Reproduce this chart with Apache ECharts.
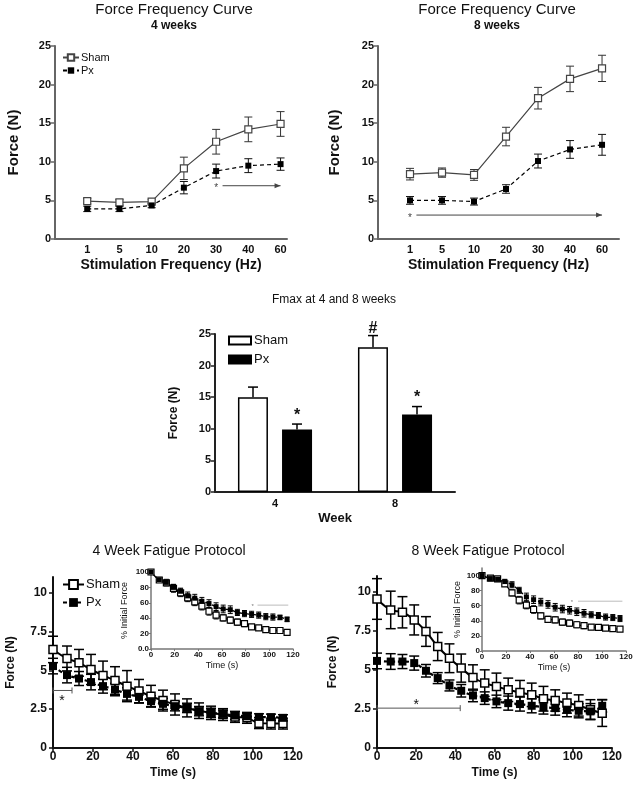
<!DOCTYPE html>
<html><head><meta charset="utf-8">
<script src="https://cdn.jsdelivr.net/npm/echarts@6/dist/echarts.min.js"></script>
<style>html,body{margin:0;padding:0;background:#fff}#c{width:637px;height:786px}</style>
</head><body><div id="c"></div>
<script>
// ---------- DATA ----------
const ffCategories = ['1', '5', '10', '20', '30', '40', '60'];
const ff4Sham    = [4.9, 4.75, 4.85, 9.15, 12.6, 14.2, 14.9];
const ff4ShamErr = [0.35, 0.35, 0.3, 1.45, 1.6, 1.6, 1.6];
const ff4Px      = [3.9, 3.9, 4.35, 6.65, 8.8, 9.5, 9.7];
const ff4PxErr   = [0.35, 0.35, 0.3, 0.8, 0.9, 0.9, 0.8];
const ff8Sham    = [8.4, 8.6, 8.3, 13.27, 18.24, 20.74, 22.1];
const ff8ShamErr = [0.75, 0.6, 0.7, 1.2, 1.4, 1.65, 1.7];
const ff8Px      = [5.0, 5.0, 4.85, 6.48, 10.1, 11.6, 12.2];
const ff8PxErr   = [0.5, 0.5, 0.45, 0.55, 0.9, 1.15, 1.35];

const fmaxWeeks  = ['4', '8'];
const fmaxSham    = [15.0, 22.9];
const fmaxShamErr = [1.6, 1.85];
const fmaxPx      = [9.9, 12.25];
const fmaxPxErr   = [0.85, 1.27];

const fatTimes = [0, 7, 13, 19, 25, 31, 37, 43, 49, 55, 61, 67, 73, 79, 85, 91, 97, 103, 109, 115];
const fat4Sham    = [6.34, 5.76, 5.48, 5.05, 4.67, 4.34, 3.98, 3.66, 3.33, 3.05, 2.8, 2.58, 2.4, 2.26, 2.15, 2.0, 1.94, 1.6, 1.57, 1.57];
const fat4ShamErr = [0.85, 0.8, 0.86, 0.97, 0.92, 0.89, 1.0, 0.75, 0.7, 0.67, 0.68, 0.58, 0.5, 0.43, 0.38, 0.35, 0.35, 0.35, 0.35, 0.35];
const fat4Px      = [5.27, 4.69, 4.47, 4.24, 3.98, 3.76, 3.48, 3.29, 3.01, 2.84, 2.69, 2.58, 2.37, 2.26, 2.19, 2.09, 2.04, 2.0, 1.98, 1.94];
const fat4PxErr   = [0.5, 0.5, 0.45, 0.5, 0.45, 0.4, 0.4, 0.4, 0.35, 0.35, 0.3, 0.3, 0.3, 0.3, 0.25, 0.25, 0.2, 0.2, 0.2, 0.2];
const fat8Sham    = [9.53, 8.83, 8.68, 8.19, 7.45, 6.49, 5.74, 5.11, 4.51, 4.15, 3.94, 3.72, 3.55, 3.4, 3.15, 3.04, 2.87, 2.72, 2.45, 2.23];
const fat8ShamErr = [1.3, 1.2, 1.0, 0.96, 0.95, 0.9, 0.92, 0.9, 0.81, 0.85, 0.85, 0.75, 0.77, 0.75, 0.79, 0.68, 0.64, 0.68, 0.64, 0.85];
const fat8Px      = [5.57, 5.53, 5.53, 5.43, 4.94, 4.47, 4.0, 3.66, 3.36, 3.19, 2.98, 2.87, 2.81, 2.7, 2.62, 2.55, 2.45, 2.38, 2.34, 2.7];
const fat8PxErr   = [0.5, 0.5, 0.45, 0.45, 0.4, 0.35, 0.35, 0.4, 0.4, 0.4, 0.4, 0.45, 0.45, 0.45, 0.45, 0.45, 0.45, 0.45, 0.5, 0.4];

const ins4Sham    = [100, 89.6, 86, 78.7, 73, 66.5, 61.3, 55.7, 49, 44, 40.4, 37.4, 34.8, 33, 28.7, 27.4, 25.2, 24, 24, 21.7];
const ins4ShamErr = [0, 3, 4, 5, 5, 5, 5, 5, 5, 5, 4, 4, 4, 4, 3, 3, 3, 3, 3, 3];
const ins4Px      = [100, 90, 86.5, 80, 75, 69, 66, 62, 59, 55, 52, 51, 47.5, 46, 45, 44, 42, 41.5, 41, 38.5];
const ins4PxErr   = [0, 3, 4, 4, 4, 5, 5, 5, 5, 5, 5, 5, 4, 4, 4, 4, 4, 4, 3, 3];
const ins8Sham    = [100, 96.5, 95.6, 89, 77, 67.4, 60.9, 55, 46.5, 42, 41.3, 38.3, 37, 34.8, 33.5, 31.7, 31.3, 30.4, 29.6, 29.1];
const ins8ShamErr = [0, 3, 3, 3, 4, 5, 5, 5, 4, 4, 4, 4, 4, 4, 4, 3, 3, 3, 3, 3];
const ins8Px      = [100, 96, 95, 92, 87.8, 80.4, 71.7, 68, 64.8, 61.7, 58, 55.6, 54, 52, 50, 48, 47, 45, 44.3, 43];
const ins8PxErr   = [0, 3, 3, 3, 4, 4, 5, 5, 5, 5, 5, 5, 5, 5, 5, 4, 4, 4, 4, 4];

// annotations: [xFrom, xTo, y]
const ff4Arrow = [[5.2, 7.0, 6.9]];
const ff4Star  = [[5.0, 6.9]];
const ff8Arrow = [[1.2, 7.0, 3.1]];
const ff8Star  = [[1.0, 3.1]];
const fmaxMarks = [[0, 12.4], [1, 26.2], [1, 15.2]];
const fmaxMarkText = ['*', '#', '*'];
const fat4Bracket = [[0, 9.5, 3.7]];
const fat4Star    = [[4.5, 3.25]];
const fat8Bracket = [[0, 42.5, 2.55]];
const fat8Star    = [[20, 3.0]];
const ins4Line = [[90, 116, 57]];
const ins4Dot  = [[86, 58]];
const ins8Line = [[80, 117, 66]];
const ins8Dot  = [[75, 67]];

// ---------- HELPERS ----------
const FONT = '"Liberation Sans", Arial, Helvetica, sans-serif';
const TXT = '#111';
const ffX = ffCategories.map((_, i) => i + 1);
const pairs = (xs, ys) => xs.map((x, i) => [x, ys[i]]);
const triples = (xs, ys, es) => xs.map((x, i) => [x, ys[i], es[i]]);

function errSeries(gi, data, o) {
  return {
    type: 'custom', coordinateSystem: 'cartesian2d', xAxisIndex: gi, yAxisIndex: gi,
    data, z: o.z || 2, silent: true, encode: {x: 0, y: 1},
    renderItem(params, api) {
      const x = api.value(0), y = api.value(1), e = api.value(2);
      const hi = api.coord([x, y + e]);
      const lo = api.coord([x, o.oneSided ? y : y - e]);
      const cx = hi[0] + (o.dx || 0);
      const st = {stroke: o.color || '#000', lineWidth: o.lw || 1};
      const w = o.cap / 2;
      const ch = [
        {type: 'line', shape: {x1: cx, y1: hi[1], x2: cx, y2: lo[1]}, style: st},
        {type: 'line', shape: {x1: cx - w, y1: hi[1], x2: cx + w, y2: hi[1]}, style: st}
      ];
      if (!o.oneSided) ch.push({type: 'line', shape: {x1: cx - w, y1: lo[1], x2: cx + w, y2: lo[1]}, style: st});
      return {type: 'group', children: ch};
    }
  };
}

function annLine(gi, data, o) {
  return {
    type: 'custom', coordinateSystem: 'cartesian2d', xAxisIndex: gi, yAxisIndex: gi,
    data, z: 5, silent: true, encode: {x: [0, 1], y: 2},
    renderItem(params, api) {
      const y = api.value(2);
      const a = api.coord([api.value(0), y]), b = api.coord([api.value(1), y]);
      const st = {stroke: o.color, lineWidth: o.lw};
      const ch = [{type: 'line', shape: {x1: a[0], y1: a[1], x2: b[0], y2: b[1]}, style: st}];
      if (o.kind === 'arrow') {
        ch.push({type: 'polygon', shape: {points: [[b[0], b[1]], [b[0] - 6, b[1] - 2.5], [b[0] - 6, b[1] + 2.5]]}, style: {fill: o.color}});
      } else if (o.kind === 'bracket') {
        ch.push({type: 'line', shape: {x1: a[0], y1: a[1] - 3, x2: a[0], y2: a[1] + 3}, style: st});
        ch.push({type: 'line', shape: {x1: b[0], y1: b[1] - 3, x2: b[0], y2: b[1] + 3}, style: st});
      }
      return {type: 'group', children: ch};
    }
  };
}

function annText(gi, data, texts, o) {
  return {
    type: 'custom', coordinateSystem: 'cartesian2d', xAxisIndex: gi, yAxisIndex: gi,
    data, z: 6, silent: true, encode: {x: 0, y: 1},
    renderItem(params, api) {
      const p = api.coord([api.value(0), api.value(1)]);
      const dx = o.dx ? o.dx[params.dataIndex] : 0;
      return {type: 'text', x: p[0] + dx, y: p[1] + (o.dy || 0),
        style: {text: texts[params.dataIndex], fontSize: o.size, fontWeight: o.weight || 'normal',
          fill: o.color || TXT, align: 'center', verticalAlign: 'middle', fontFamily: FONT}};
    }
  };
}

function lineSeries(name, gi, data, o) {
  return {
    type: 'line', name, xAxisIndex: gi, yAxisIndex: gi, data, z: 4,
    symbol: 'rect', symbolSize: o.size, smooth: o.smooth || false,
    itemStyle: o.open ? {color: '#fff', borderColor: o.color, borderWidth: o.bw || 1.2}
                      : {color: o.color, borderColor: o.color, borderWidth: 0},
    lineStyle: {color: o.color, width: o.lw, type: o.dashed ? [4, 3] : 'solid'},
    emphasis: {disabled: true}
  };
}

function valAxis(gi, o) {
  return {
    gridIndex: gi, type: 'value', min: o.min, max: o.max, interval: o.interval,
    axisLine: {show: true, onZero: false, lineStyle: {color: o.color, width: o.lw}},
    axisTick: {show: o.tick !== false, length: o.tickLen || 4, customValues: o.customValues,
      lineStyle: {color: o.color, width: o.tickW || 1.5}},
    splitLine: {show: false},
    axisLabel: {fontSize: o.fs, fontWeight: 'bold', color: TXT, margin: o.margin, fontFamily: FONT,
      customValues: o.customValues, formatter: o.formatter},
    name: o.name, nameLocation: 'middle', nameGap: o.nameGap,
    nameTextStyle: {fontSize: o.nfs, fontWeight: o.nfw || 'bold', color: TXT, fontFamily: FONT}
  };
}

const legendFmt = n => n.split('|')[0];

// ---------- CHART ----------
const chart = echarts.init(document.getElementById('c'), null, {renderer: 'canvas'});

const option = {
  animation: false,
  backgroundColor: '#fff',
  textStyle: {fontFamily: FONT},
  title: [
    {text: 'Force Frequency Curve', subtext: '4 weeks', left: 174, top: 2, textAlign: 'center', padding: 0, itemGap: 3,
     textStyle: {fontSize: 15, fontWeight: 'normal', color: TXT, fontFamily: FONT},
     subtextStyle: {fontSize: 12, fontWeight: 'bold', color: TXT, fontFamily: FONT}},
    {text: 'Force Frequency Curve', subtext: '8 weeks', left: 497, top: 2, textAlign: 'center', padding: 0, itemGap: 3,
     textStyle: {fontSize: 15, fontWeight: 'normal', color: TXT, fontFamily: FONT},
     subtextStyle: {fontSize: 12, fontWeight: 'bold', color: TXT, fontFamily: FONT}},
    {text: 'Fmax at 4 and 8 weeks', left: 334, top: 294, textAlign: 'center', padding: 0,
     textStyle: {fontSize: 12, fontWeight: 'normal', color: TXT, fontFamily: FONT}},
    {text: '4 Week Fatigue Protocol', left: 169, top: 544, textAlign: 'center', padding: 0,
     textStyle: {fontSize: 14, fontWeight: 'normal', color: TXT, fontFamily: FONT}},
    {text: '8 Week Fatigue Protocol', left: 488, top: 544, textAlign: 'center', padding: 0,
     textStyle: {fontSize: 14, fontWeight: 'normal', color: TXT, fontFamily: FONT}}
  ],
  legend: [
    {data: ['Sham|ff4', 'Px|ff4'], orient: 'vertical', left: 62, top: 52, padding: 0, itemGap: 2,
     itemWidth: 16, itemHeight: 8, selectedMode: false, formatter: legendFmt,
     textStyle: {fontSize: 11, color: TXT, fontFamily: FONT, padding: [0, 0, 0, -3]}},
    {data: ['Sham|bar', 'Px|bar'], orient: 'vertical', left: 228, top: 334, padding: 0, itemGap: 6,
     itemWidth: 22, itemHeight: 8, selectedMode: false, formatter: legendFmt, icon: 'rect',
     textStyle: {fontSize: 13, color: TXT, fontFamily: FONT, padding: [0, 0, 0, -2]}},
    {data: ['Sham|fat4', 'Px|fat4'], orient: 'vertical', left: 62, top: 578, padding: 0, itemGap: 5,
     itemWidth: 21, itemHeight: 11, selectedMode: false, formatter: legendFmt,
     textStyle: {fontSize: 13, color: TXT, fontFamily: FONT, padding: [0, 0, 0, -3]}}
  ],
  grid: [
    {left: 55, top: 46, width: 232, height: 193},
    {left: 378, top: 46, width: 241, height: 193},
    {left: 215, top: 334, width: 240, height: 158},
    {left: 53, top: 577, width: 240, height: 171},
    {left: 377, top: 576, width: 235, height: 172},
    {left: 151, top: 572, width: 142, height: 77},
    {left: 482, top: 568, width: 144, height: 83}
  ],
  xAxis: [
    valAxis(0, {min: 0, max: 7.2, color: '#666', lw: 2, tick: false, fs: 11, margin: 5,
      customValues: ffX, formatter: v => ffCategories[v - 1] || '',
      name: 'Stimulation Frequency (Hz)', nameGap: 19, nfs: 14}),
    valAxis(1, {min: 0, max: 7.53, color: '#666', lw: 2, tick: false, fs: 11, margin: 5,
      customValues: ffX, formatter: v => ffCategories[v - 1] || '',
      name: 'Stimulation Frequency (Hz)', nameGap: 19, nfs: 14}),
    {gridIndex: 2, type: 'category', data: fmaxWeeks,
     axisLine: {show: true, lineStyle: {color: '#222', width: 2}}, axisTick: {show: false},
     axisLabel: {fontSize: 11, fontWeight: 'bold', color: TXT, margin: 6, fontFamily: FONT},
     name: 'Week', nameLocation: 'middle', nameGap: 20,
     nameTextStyle: {fontSize: 13, fontWeight: 'bold', color: TXT, fontFamily: FONT}},
    valAxis(3, {min: 0, max: 120, interval: 20, color: '#111', lw: 2, fs: 12, margin: 3,
      name: 'Time (s)', nameGap: 19, nfs: 12}),
    valAxis(4, {min: 0, max: 120, interval: 20, color: '#111', lw: 2, fs: 12, margin: 3,
      name: 'Time (s)', nameGap: 19, nfs: 12}),
    valAxis(5, {min: 0, max: 120, interval: 20, color: '#777', lw: 1.5, tickLen: 2, tickW: 1, fs: 8, margin: 2,
      name: 'Time (s)', nameGap: 12, nfs: 9, nfw: 'normal'}),
    valAxis(6, {min: 0, max: 120, interval: 20, color: '#777', lw: 1.5, tickLen: 2, tickW: 1, fs: 8, margin: 2,
      name: 'Time (s)', nameGap: 12, nfs: 9, nfw: 'normal'})
  ],
  yAxis: [
    valAxis(0, {min: 0, max: 25, interval: 5, color: '#666', lw: 2, fs: 11, margin: 4,
      name: 'Force (N)', nameGap: 34, nfs: 15}),
    valAxis(1, {min: 0, max: 25, interval: 5, color: '#666', lw: 2, fs: 11, margin: 4,
      name: 'Force (N)', nameGap: 36, nfs: 15}),
    valAxis(2, {min: 0, max: 25, interval: 5, color: '#222', lw: 2, fs: 11, margin: 4,
      name: 'Force (N)', nameGap: 35, nfs: 12}),
    valAxis(3, {min: 0, max: 11, color: '#111', lw: 2, fs: 12, margin: 6,
      customValues: [0, 2.5, 5, 7.5, 10], name: 'Force (N)', nameGap: 36, nfs: 12}),
    valAxis(4, {min: 0, max: 11, color: '#111', lw: 2, fs: 12, margin: 6,
      customValues: [0, 2.5, 5, 7.5, 10], name: 'Force (N)', nameGap: 38, nfs: 12}),
    valAxis(5, {min: 0, max: 100, interval: 20, color: '#777', lw: 1.5, tickLen: 2, tickW: 1, fs: 8, margin: 2,
      formatter: v => (v === 0 ? '0.0' : String(v)), name: '% Initial Force', nameGap: 22, nfs: 9, nfw: 'normal'}),
    valAxis(6, {min: 0, max: 110, color: '#777', lw: 1.5, tickLen: 2, tickW: 1, fs: 8, margin: 2,
      customValues: [0, 20, 40, 60, 80, 100], name: '% Initial Force', nameGap: 20, nfs: 9, nfw: 'normal'})
  ],
  series: [
    // Force frequency 4 wk
    errSeries(0, triples(ffX, ff4Sham, ff4ShamErr), {cap: 8, lw: 1, color: '#333'}),
    errSeries(0, triples(ffX, ff4Px, ff4PxErr), {cap: 8, lw: 1, color: '#111'}),
    lineSeries('Sham|ff4', 0, pairs(ffX, ff4Sham), {size: 7, open: true, color: '#444', lw: 1.2}),
    lineSeries('Px|ff4', 0, pairs(ffX, ff4Px), {size: 6, color: '#000', lw: 1.2, dashed: true}),
    annLine(0, ff4Arrow, {kind: 'arrow', color: '#444', lw: 1}),
    annText(0, ff4Star, ['*'], {size: 10, color: '#444', dy: 3}),
    // Force frequency 8 wk
    errSeries(1, triples(ffX, ff8Sham, ff8ShamErr), {cap: 8, lw: 1, color: '#333'}),
    errSeries(1, triples(ffX, ff8Px, ff8PxErr), {cap: 8, lw: 1, color: '#111'}),
    lineSeries('Sham|ff8', 1, pairs(ffX, ff8Sham), {size: 7, open: true, color: '#444', lw: 1.2}),
    lineSeries('Px|ff8', 1, pairs(ffX, ff8Px), {size: 6, color: '#000', lw: 1.2, dashed: true}),
    annLine(1, ff8Arrow, {kind: 'arrow', color: '#444', lw: 1}),
    annText(1, ff8Star, ['*'], {size: 10, color: '#444', dy: 3}),
    // Fmax bars
    {type: 'bar', name: 'Sham|bar', xAxisIndex: 2, yAxisIndex: 2, data: fmaxSham, barWidth: 30, barGap: '47%',
     itemStyle: {color: '#fff', borderColor: '#000', borderWidth: 1.5}, z: 3},
    {type: 'bar', name: 'Px|bar', xAxisIndex: 2, yAxisIndex: 2, data: fmaxPx, barWidth: 30, barGap: '47%',
     itemStyle: {color: '#000', borderColor: '#000', borderWidth: 1.5}, z: 3},
    errSeries(2, triples([0, 1], fmaxSham, fmaxShamErr), {cap: 10, lw: 1.5, oneSided: true, dx: -22, z: 4}),
    errSeries(2, triples([0, 1], fmaxPx, fmaxPxErr), {cap: 10, lw: 1.5, oneSided: true, dx: 22, z: 4}),
    annText(2, fmaxMarks, fmaxMarkText, {size: 16, weight: 'bold', dx: [22, -22, 22], dy: 2}),
    // Fatigue 4 wk
    errSeries(3, triples(fatTimes, fat4Sham, fat4ShamErr), {cap: 10, lw: 1.5}),
    errSeries(3, triples(fatTimes, fat4Px, fat4PxErr), {cap: 10, lw: 1.5}),
    lineSeries('Sham|fat4', 3, pairs(fatTimes, fat4Sham), {size: 8, open: true, color: '#000', lw: 2, bw: 1.5, smooth: 0.4}),
    lineSeries('Px|fat4', 3, pairs(fatTimes, fat4Px), {size: 8, color: '#000', lw: 2.2, dashed: true, smooth: 0.4}),
    annLine(3, fat4Bracket, {kind: 'bracket', color: '#555', lw: 1}),
    annText(3, fat4Star, ['*'], {size: 14, dy: 4}),
    // Fatigue 8 wk
    errSeries(4, triples(fatTimes, fat8Sham, fat8ShamErr), {cap: 10, lw: 1.5}),
    errSeries(4, triples(fatTimes, fat8Px, fat8PxErr), {cap: 10, lw: 1.5}),
    lineSeries('Sham|fat8', 4, pairs(fatTimes, fat8Sham), {size: 8, open: true, color: '#000', lw: 2, bw: 1.5, smooth: 0.4}),
    lineSeries('Px|fat8', 4, pairs(fatTimes, fat8Px), {size: 8, color: '#000', lw: 2.2, dashed: true, smooth: 0.4}),
    annLine(4, fat8Bracket, {kind: 'bracket', color: '#555', lw: 1}),
    annText(4, fat8Star, ['*'], {size: 14, dy: 4}),
    // Inset 4 wk
    errSeries(5, triples(fatTimes, ins4Sham, ins4ShamErr), {cap: 5, lw: 1}),
    errSeries(5, triples(fatTimes, ins4Px, ins4PxErr), {cap: 5, lw: 1}),
    lineSeries('Sham|ins4', 5, pairs(fatTimes, ins4Sham), {size: 6, open: true, color: '#000', lw: 1.3, bw: 1.2, smooth: 0.4}),
    lineSeries('Px|ins4', 5, pairs(fatTimes, ins4Px), {size: 5, color: '#000', lw: 1.3, dashed: true, smooth: 0.4}),
    annLine(5, ins4Line, {kind: 'none', color: '#bbb', lw: 1}),
    annText(5, ins4Dot, ['*'], {size: 6, color: '#777', dy: 2}),
    // Inset 8 wk
    errSeries(6, triples(fatTimes, ins8Sham, ins8ShamErr), {cap: 5, lw: 1}),
    errSeries(6, triples(fatTimes, ins8Px, ins8PxErr), {cap: 5, lw: 1}),
    lineSeries('Sham|ins8', 6, pairs(fatTimes, ins8Sham), {size: 6, open: true, color: '#000', lw: 1.3, bw: 1.2, smooth: 0.4}),
    lineSeries('Px|ins8', 6, pairs(fatTimes, ins8Px), {size: 5, color: '#000', lw: 1.3, dashed: true, smooth: 0.4}),
    annLine(6, ins8Line, {kind: 'none', color: '#bbb', lw: 1}),
    annText(6, ins8Dot, ['*'], {size: 6, color: '#777', dy: 2})
  ]
};
chart.setOption(option);
</script>
</body></html>
